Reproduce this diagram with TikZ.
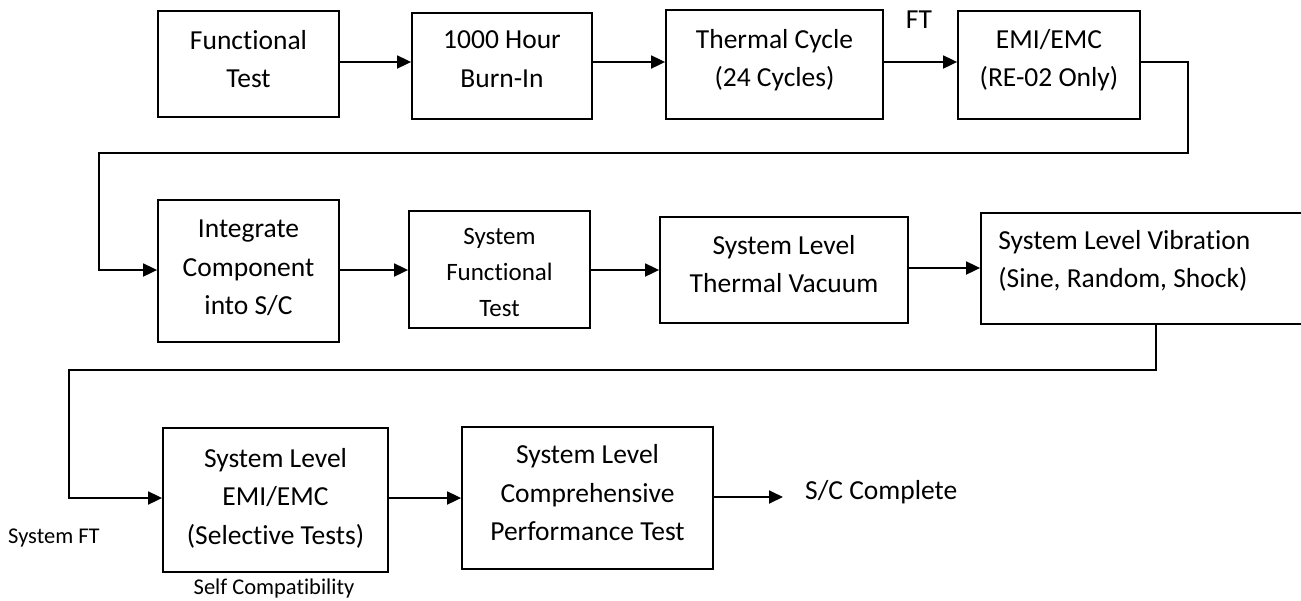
\documentclass[tikz,border=0pt]{standalone}
\usepackage{fontspec}
\setmainfont{Carlito}[Ligatures=NoCommon]
\usetikzlibrary{arrows.meta,calc}
\begin{document}
\begin{tikzpicture}[x=1pt,y=-1pt,
  box/.style={draw, line width=1.8pt, inner sep=0pt},
  txt/.style={inner sep=0pt, align=center, font=\fontsize{27.5}{38.5}\selectfont},
  txtsm/.style={inner sep=0pt, align=center, font=\fontsize{25}{36}\selectfont},
  note/.style={inner sep=0pt, font=\fontsize{22.5}{27}\selectfont},
  conn/.style={line width=1.8pt},
  arr/.style={conn, -{Triangle[length=14pt,width=13pt]}}
]
\useasboundingbox (0,0) rectangle (1301,600);
% row 1
\node[box, minimum width=181pt, minimum height=106pt,
  label={[txt,yshift=5pt]center:Functional\\Test}] (b1) at (248.5,64) {};
\node[box, minimum width=180pt, minimum height=106pt,
  label={[txt,yshift=7pt]center:1000 Hour\\Burn-In}] (b2) at (502,66) {};
\node[box, minimum width=217pt, minimum height=109pt,
  label={[txt,yshift=4.5pt]center:Thermal Cycle\\(24 Cycles)}] (b3) at (774.5,64.5) {};
\node[box, minimum width=182pt, minimum height=108pt,
  label={[txt,yshift=5pt]center:EMI/EMC\\(RE-02 Only)}] (b4) at (1049,65) {};
\node[txt] (ft) at (919,20) {FT};
% row 2
\node[box, minimum width=181pt, minimum height=142pt,
  label={[txt,yshift=3pt]center:Integrate\\Component\\into S/C}] (b5) at (248.5,271) {};
\node[box, minimum width=181pt, minimum height=117pt,
  label={[txtsm,yshift=-2.5pt]center:System\\Functional\\Test}] (b6) at (499.5,269.5) {};
\node[box, minimum width=248pt, minimum height=106pt,
  label={[txt,yshift=6pt]center:System Level\\Thermal Vacuum}] (b7) at (784,270) {};
\node[box, minimum width=321pt, minimum height=111pt,
  label={[txt,align=left,anchor=west,xshift=18pt,yshift=7.5pt]west:System Level Vibration\\(Sine, Random, Shock)}] (b8) at (1141.5,268.5) {};
% row 3
\node[box, minimum width=225pt, minimum height=144pt,
  label={[txt,yshift=2pt]center:System Level\\EMI/EMC\\(Selective Tests)}] (b9) at (275.5,500) {};
\node[box, minimum width=251pt, minimum height=142pt,
  label={[txt,yshift=5pt]center:System Level\\Comprehensive\\Performance Test}] (b10) at (587.5,498) {};
\node[txt, anchor=west] (done) at (805,492) {S/C Complete};
\node[note, anchor=west] (sysft) at (8,538) {System FT};
\node[note] (selfc) at (274,588) {Self Compatibility};
% helper coordinates
\coordinate (r1) at (0,62);
\coordinate (c1) at (1188,62);
\coordinate (c2) at (1188,153);
\coordinate (c3) at (99,153);
\coordinate (c4) at (99,270);
\coordinate (r2) at (0,270);
\coordinate (r2b) at (0,268);
\coordinate (d0) at (1156,324);
\coordinate (d1) at (1156,370);
\coordinate (d2) at (69,370);
\coordinate (d3) at (69,498);
\coordinate (r3) at (0,498);
\coordinate (endtip) at (783,497);
% connectors
\draw[arr] (b1.east |- r1) -- (b2.west |- r1);
\draw[arr] (b2.east |- r1) -- (b3.west |- r1);
\draw[arr] (b3.east |- r1) -- (b4.west |- r1);
\draw[arr] (b4.east |- r1) -- (c1) -- (c2) -- (c3) -- (c4) -- (b5.west |- c4);
\draw[arr] (b5.east |- r2) -- (b6.west |- r2);
\draw[arr] (b6.east |- r2) -- (b7.west |- r2);
\draw[arr] (b7.east |- r2b) -- (b8.west |- r2b);
\draw[arr] (b8.south -| d0) -- (d1) -- (d2) -- (d3) -- (b9.west |- d3);
\draw[arr] (b9.east |- r3) -- (b10.west |- r3);
\draw[arr] (b10.east |- endtip) -- (endtip);
\end{tikzpicture}
\end{document}
